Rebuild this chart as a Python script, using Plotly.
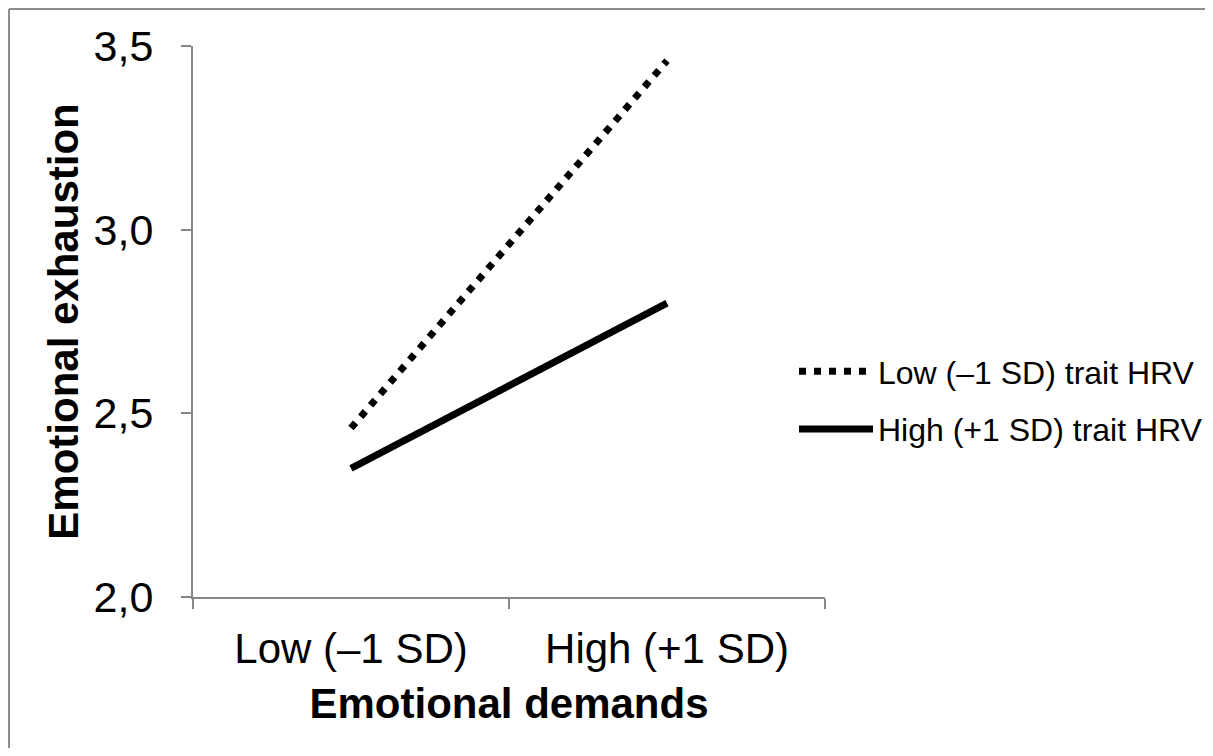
import plotly.graph_objects as go

categories = ["Low (–1 SD)", "High (+1 SD)"]
low_hrv = [2.46, 3.46]
high_hrv = [2.35, 2.80]
series_names = ["Low (–1 SD) trait HRV", "High (+1 SD) trait HRV"]
y_ticks = [2.0, 2.5, 3.0, 3.5]
y_tick_labels = ["2,0", "2,5", "3,0", "3,5"]

# the page adds an 8px body margin on every side; keep the figure inside the window
OFF = 8
W, H = 1213 - 2 * OFF, 756 - 2 * OFF
L, T = 193 - OFF, 46 - OFF
R = W - (825 - OFF)
B = H - (597 - OFF)
pw, ph = W - L - R, H - T - B

FONT = "Liberation Sans, Arial, sans-serif"
AX = "#868686"

fig = go.Figure()
fig.add_trace(go.Scatter(x=categories, y=low_hrv, mode="lines", name=series_names[0],
                         line=dict(color="black", width=7, dash="7px,8px"),
                         legendgroup="a"))
fig.add_trace(go.Scatter(x=categories, y=high_hrv, mode="lines", name=series_names[1],
                         line=dict(color="black", width=7),
                         legendgroup="b"))

def px(xp):
    return (xp - OFF - L) / pw

def py(yp):
    return (H - B - (yp - OFF)) / ph

shapes = [
    dict(type="line", xref="paper", yref="paper", x0=px(9), x1=px(1220), y0=py(9), y1=py(9),
         line=dict(color="#8c8c8c", width=2)),
    dict(type="line", xref="paper", yref="paper", x0=px(9), x1=px(9), y0=py(9), y1=py(760),
         line=dict(color="#8c8c8c", width=2)),
]

fig.update_layout(
    width=W, height=H,
    margin=dict(l=L, r=R, t=T, b=B, autoexpand=False),
    paper_bgcolor="white", plot_bgcolor="white",
    font=dict(family=FONT, color="black"),
    shapes=shapes,
    showlegend=True,
    legend=dict(x=px(794), xanchor="left", y=py(344), yanchor="top",
                font=dict(size=32, family=FONT), tracegroupgap=13,
                bgcolor="rgba(0,0,0,0)", itemwidth=74),
    xaxis=dict(type="category", range=[-0.5, 1.5], showline=True, linecolor=AX, linewidth=2,
               ticks="outside", tickson="boundaries", ticklen=10, tickcolor=AX, tickwidth=2,
               tickfont=dict(size=42), showgrid=False, zeroline=False, ticklabelstandoff=14,
               title=dict(text="<b>Emotional demands</b>", font=dict(size=42), standoff=17)),
    yaxis=dict(range=[2.0, 3.5], tickvals=y_ticks, ticktext=y_tick_labels, showline=True,
               linecolor=AX, linewidth=2, ticks="outside", ticklen=10, tickcolor=AX, tickwidth=2,
               tickfont=dict(size=43), showgrid=False, zeroline=False, ticklabelstandoff=19,
               title=dict(text="<b>Emotional exhaustion</b>", font=dict(size=42), standoff=2)),
)

fig.write_html("out.html")
